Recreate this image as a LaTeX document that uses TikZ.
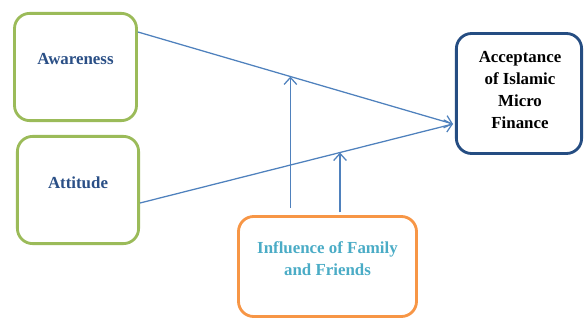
\documentclass[tikz,border=0pt]{standalone}
\usepackage{fontspec}
\setmainfont{Liberation Serif}
\usetikzlibrary{arrows.meta}
\definecolor{boxgreen}{HTML}{9BBB59}
\definecolor{boxnavy}{HTML}{254D82}
\definecolor{boxorange}{HTML}{F79646}
\definecolor{textnavy}{HTML}{2A4F86}
\definecolor{textcyan}{HTML}{4BACC6}
\definecolor{linkblue}{HTML}{4F81BD}
\begin{document}
\begin{tikzpicture}[x=0.025cm,y=-0.025cm,
  box/.style={draw,rounded corners=0.38cm,line width=2pt},
  lbl/.style={font=\bfseries\fontsize{12}{15.5}\selectfont,align=center},
  link/.style={draw=linkblue,line width=0.9pt},
  >={Straight Barb[length=5pt,width=9pt]}]
\useasboundingbox (0,0) rectangle (584,321);
\node[box,draw=boxgreen,minimum width=3.05cm,minimum height=2.68cm] (aw) at (75.5,67) {};
\node[lbl,text=textnavy] (awtxt) at (75.5,59) {Awareness};
\node[box,draw=boxgreen,minimum width=3.03cm,minimum height=2.68cm] (att) at (78,190) {};
\node[lbl,text=textnavy] (atttxt) at (78,183) {Attitude};
\node[box,draw=boxnavy,minimum width=3.13cm,minimum height=3cm] (acc) at (519,93.5) {};
\node[lbl,text=black] (acctxt) at (520,90) {Acceptance\\of Islamic\\Micro\\Finance};
\node[box,draw=boxorange,minimum width=4.45cm,minimum height=2.5cm] (inf) at (327.5,266.5) {};
\node[lbl,text=textcyan] (inftxt) at (327.5,259) {Influence of Family\\and Friends};
\coordinate (tip) at (453,124);
\draw[link,->] (aw.east |- 0,32) -- (tip) coordinate[pos=0.484] (awmid);
\draw[link,->] (att.east |- 0,203) -- (tip) coordinate[pos=0.639] (attmid);
\draw[link,->] ([yshift=5pt]inf.north -| awmid) -- (awmid);
\draw[link,->] ([yshift=2pt]inf.north -| attmid) -- (attmid);
\end{tikzpicture}
\end{document}
